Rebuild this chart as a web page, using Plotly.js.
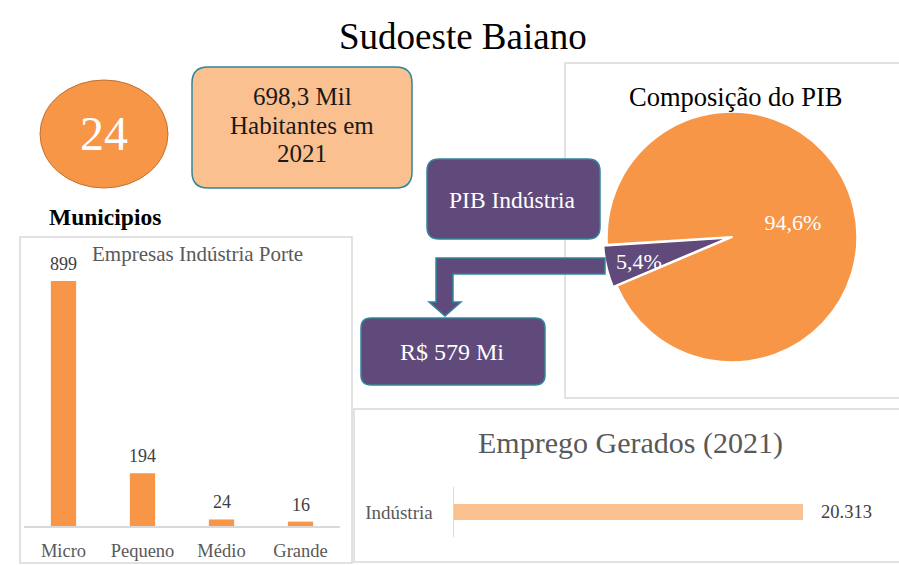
<!DOCTYPE html>
<html>
<head>
<meta charset="utf-8">
<script src="https://cdn.plot.ly/plotly-3.0.1.min.js"></script>
<style>html,body{margin:0;padding:0;background:#fff;}#chart{width:899px;height:565px;}</style>
</head>
<body>
<div id="chart"></div>
<script>
// ---- data ----
const porteCategories = ['Micro', 'Pequeno', 'Médio', 'Grande'];
const empresasPorte = [899, 194, 24, 16];
const pibLabels = ['Indústria', 'Demais setores'];
const pibShares = [5.4, 94.6];
const empregoCategories = ['Indústria'];
const empregoValues = [20313];
const municipiosCount = 24;
const habitantesMil = 698.3;
const pibIndustriaMi = 579;

// ---- helpers ----
const W = 899, H = 565;
const X = p => p / W;
const Y = p => 1 - p / H;
const FONT = 'Liberation Serif, Times New Roman, serif';
const ORANGE = '#F79646', LIGHT = '#FAC090', PURPLE = '#604A7B', TEAL = '#31859C';
const GRAY = '#595959', BORDER = '#D9D9D9';
const comma = v => String(v).replace('.', ',');
const thousands = v => String(v).replace(/\B(?=(\d{3})+(?!\d))/g, '.');

function rr(x0, y0, x1, y1, r) {
  return `M${X(x0+r)},${Y(y0)} L${X(x1-r)},${Y(y0)} Q${X(x1)},${Y(y0)} ${X(x1)},${Y(y0+r)} ` +
         `L${X(x1)},${Y(y1-r)} Q${X(x1)},${Y(y1)} ${X(x1-r)},${Y(y1)} L${X(x0+r)},${Y(y1)} ` +
         `Q${X(x0)},${Y(y1)} ${X(x0)},${Y(y1-r)} L${X(x0)},${Y(y0+r)} Q${X(x0)},${Y(y0)} ${X(x0+r)},${Y(y0)} Z`;
}
function poly(pts) {
  return 'M' + pts.map(p => `${X(p[0])},${Y(p[1])}`).join(' L') + ' Z';
}

// ---- traces ----
const barTrace = {
  type: 'bar', x: porteCategories, y: empresasPorte,
  xaxis: 'x', yaxis: 'y',
  marker: {color: ORANGE}, hoverinfo: 'x+y', showlegend: false
};
const hbarTrace = {
  type: 'bar', orientation: 'h', x: empregoValues, y: empregoCategories,
  xaxis: 'x2', yaxis: 'y2',
  marker: {color: LIGHT}, hoverinfo: 'x+y', showlegend: false
};
const pieText = pibShares.map(v => comma(v) + '%');
const pieTrace = {
  type: 'pie', labels: pibLabels, values: pibShares,
  text: pieText, textinfo: 'text',
  textposition: ['none', 'inside'], insidetextorientation: 'horizontal',
  textfont: {family: FONT, size: 22, color: '#FFFFFF'},
  marker: {colors: [PURPLE, ORANGE], line: {color: '#FFFFFF', width: 2}},
  sort: false, direction: 'clockwise', rotation: 247, pull: [0.03, 0],
  domain: {x: [X(603), X(861)], y: [Y(366), Y(108)]},
  showlegend: false, hoverinfo: 'label+percent'
};

// ---- shapes ----
const panelLine = {color: BORDER, width: 1.5};
const shapes = [
  {type: 'rect', xref: 'paper', yref: 'paper', x0: X(20), x1: X(352), y0: Y(563), y1: Y(237), line: panelLine, fillcolor: 'rgba(0,0,0,0)'},
  {type: 'rect', xref: 'paper', yref: 'paper', x0: X(565), x1: X(910), y0: Y(398), y1: Y(63), line: panelLine, fillcolor: 'rgba(0,0,0,0)'},
  {type: 'rect', xref: 'paper', yref: 'paper', x0: X(354), x1: X(910), y0: Y(562), y1: Y(409), line: panelLine, fillcolor: 'rgba(0,0,0,0)'},
  {type: 'circle', xref: 'paper', yref: 'paper', x0: X(40), x1: X(168), y0: Y(188), y1: Y(80), fillcolor: ORANGE, line: {color: '#C0712F', width: 1}},
  {type: 'path', xref: 'paper', yref: 'paper', path: rr(192, 67, 412, 188, 16), fillcolor: LIGHT, line: {color: TEAL, width: 1.5}},
  {type: 'path', xref: 'paper', yref: 'paper', path: rr(427, 159, 600, 239, 12), fillcolor: PURPLE, line: {color: TEAL, width: 1.5}},
  {type: 'path', xref: 'paper', yref: 'paper', path: poly([[605,258],[436,258],[436,302],[429,302],[445,316],[461,302],[453,302],[453,274],[605,274]]), fillcolor: PURPLE, line: {color: TEAL, width: 1.5}},
  {type: 'path', xref: 'paper', yref: 'paper', path: rr(361, 318, 545, 385, 10), fillcolor: PURPLE, line: {color: TEAL, width: 1.5}}
];

// ---- annotations ----
const ann = (x, y, text, size, color, extra) => Object.assign({
  xref: 'paper', yref: 'paper', x: X(x), y: Y(y), text: text, showarrow: false,
  xanchor: 'center', yanchor: 'middle', font: {family: FONT, size: size, color: color}
}, extra || {});

const annotations = [
  ann(463, 36, 'Sudoeste Baiano', 37, '#000000'),
  ann(104, 134, String(municipiosCount), 48, '#FFFFFF'),
  ann(302, 97, comma(habitantesMil) + ' Mil', 25, '#1a1a1a'),
  ann(302, 125, 'Habitantes em', 25, '#1a1a1a'),
  ann(302, 153, '2021', 25, '#1a1a1a'),
  ann(105, 217, '<b>Municipios</b>', 23.5, '#000000'),
  ann(197, 254, 'Empresas Indústria Porte', 21, GRAY),
  ann(512, 200, 'PIB Indústria', 23.5, '#FFFFFF'),
  ann(452, 352, 'R$ ' + pibIndustriaMi + ' Mi', 24, '#FFFFFF'),
  ann(735, 97, 'Composição do PIB', 26.5, '#000000'),
  ann(630, 443, 'Emprego Gerados (2021)', 30, GRAY),
  // label of the small pie slice (too narrow for Plotly's inside text)
  ann(639, 261, pieText[0], 22, '#FFFFFF')
];
porteCategories.forEach((c, i) => annotations.push({
  xref: 'x', yref: 'y', x: c, y: empresasPorte[i], text: String(empresasPorte[i]),
  showarrow: false, xanchor: 'center', yanchor: 'bottom', yshift: 5,
  font: {family: FONT, size: 18, color: '#404040'}
}));
empregoCategories.forEach((c, i) => annotations.push({
  xref: 'x2', yref: 'y2', x: empregoValues[i], y: c, text: thousands(empregoValues[i]),
  showarrow: false, xanchor: 'left', yanchor: 'middle', xshift: 16,
  font: {family: FONT, size: 18.5, color: '#404040'}
}));

// ---- layout ----
const layout = {
  width: W, height: H, autosize: false,
  margin: {l: 0, r: 0, t: 0, b: 0},
  paper_bgcolor: '#FFFFFF', plot_bgcolor: 'rgba(0,0,0,0)',
  font: {family: FONT},
  bargap: 0.68,
  xaxis: {domain: [X(24), X(340)], anchor: 'y', showline: true, linecolor: BORDER, linewidth: 1.5,
          ticks: '', showgrid: false, zeroline: false, fixedrange: true, ticklabelstandoff: 7,
          tickfont: {family: FONT, size: 18.5, color: GRAY}},
  yaxis: {domain: [Y(526), Y(253.5)], anchor: 'x', range: [0, 1000], visible: false, fixedrange: true},
  xaxis2: {domain: [X(454), X(832)], anchor: 'y2', range: [0, 22000], visible: false, fixedrange: true},
  yaxis2: {domain: [Y(537), Y(487)], anchor: 'x2', showline: true, linecolor: BORDER, linewidth: 1.5,
           ticks: '', showgrid: false, zeroline: false, fixedrange: true, ticklabelstandoff: 16,
           tickfont: {family: FONT, size: 19, color: GRAY}},
  shapes: shapes,
  annotations: annotations
};

Plotly.newPlot('chart', [barTrace, hbarTrace, pieTrace], layout, {displayModeBar: false, staticPlot: true});
</script>
</body>
</html>
